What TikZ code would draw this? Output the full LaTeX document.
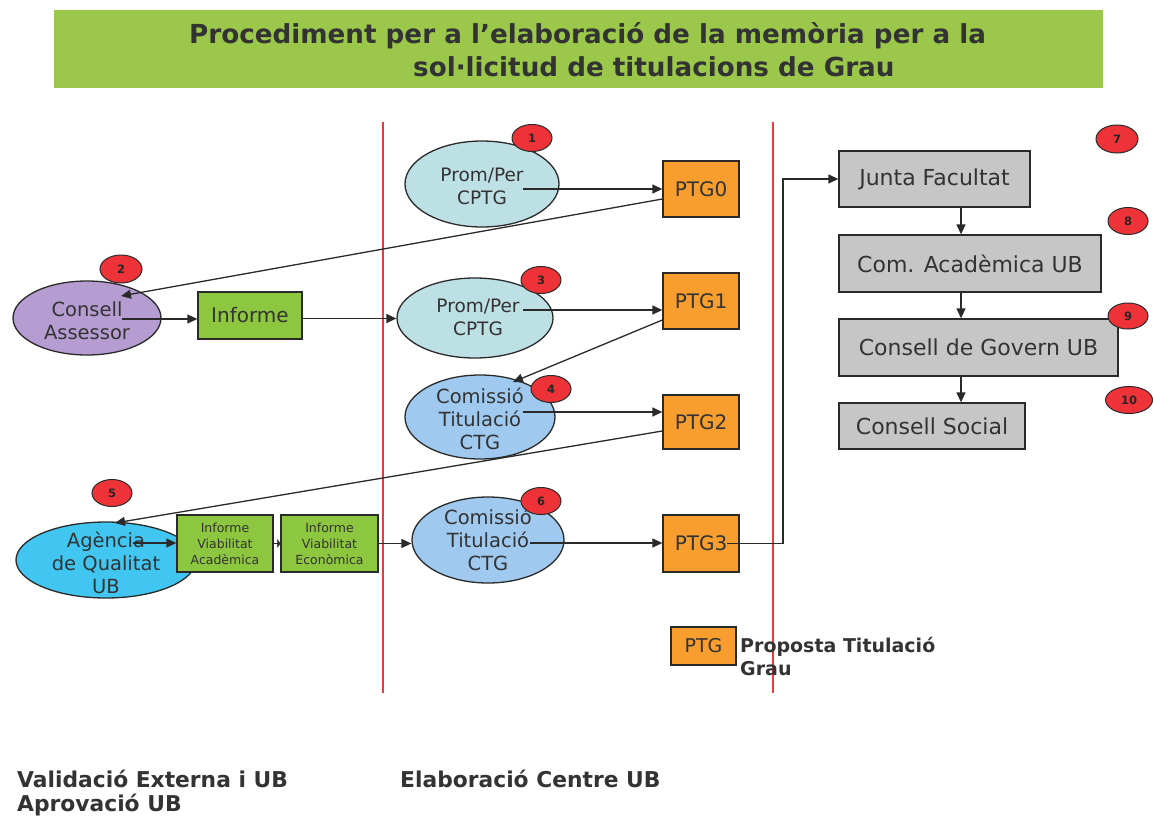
\documentclass[tikz,border=0pt]{standalone}
\usepackage{fontspec}
\setmainfont{DejaVu Sans}
\usetikzlibrary{shapes.geometric,arrows.meta,calc}
\definecolor{titlegreen}{HTML}{9BC84A}
\definecolor{boxgreen}{HTML}{8DC63F}
\definecolor{ptgorange}{HTML}{F79E2F}
\definecolor{boxgray}{HTML}{C6C6C6}
\definecolor{promcyan}{HTML}{BCE0E4}
\definecolor{comblue}{HTML}{9FC9EE}
\definecolor{agblue}{HTML}{41C6F2}
\definecolor{lavender}{HTML}{B59DD2}
\definecolor{badgered}{HTML}{EE3338}
\definecolor{redline}{HTML}{EA3A40}
\definecolor{ink}{HTML}{333333}
\definecolor{edge}{HTML}{2A2A2A}
\begin{document}
\begin{tikzpicture}[x=1pt,y=-1pt,
  ell/.style={ellipse, draw=edge, line width=1.3pt, inner sep=0pt},
  etext/.style={text=ink, align=center, font=\fontsize{19.5}{23}\selectfont, inner sep=0pt},
  rbox/.style={rectangle, draw=edge, line width=1.3pt, text=ink, inner sep=0pt, font=\fontsize{20}{23}\selectfont, align=center},
  smallbox/.style={rbox, fill=boxgreen, font=\fontsize{12.5}{16}\selectfont},
  ptgbox/.style={rbox, fill=ptgorange, minimum width=76pt},
  graybox/.style={rbox, fill=boxgray, font=\fontsize{22}{25}\selectfont},
  badge/.style={ellipse, draw=edge, line width=1pt, fill=badgered, inner sep=0pt, minimum width=40pt, minimum height=27pt, font=\bfseries\fontsize{11.5}{12}\selectfont, text=black!85},
  arr/.style={draw=edge, line width=1.3pt, -{Triangle[length=10pt,width=9pt]}},
  ln/.style={draw=edge, line width=1.3pt},
  divider/.style={draw=redline, line width=1.2pt},
  boldlabel/.style={anchor=base west, inner sep=0pt, text=ink, font=\bfseries\fontsize{21.8}{25}\selectfont},
]
\useasboundingbox (0,0) rectangle (1153,816);
\fill[white] (0,0) rectangle (1153,816);

% title
\node[fill=titlegreen, minimum width=1049pt, minimum height=78pt, anchor=north west, inner sep=0pt] (band) at (54,10) {};
\node[anchor=base west, inner sep=0pt, text=ink, font=\bfseries\fontsize{26.2}{30}\selectfont] (t1) at (189,44) {Procediment per a l’elaboració de la memòria per a la};
\node[anchor=base west, inner sep=0pt, text=ink, font=\bfseries\fontsize{26.2}{30}\selectfont] (t2) at (413,76) {sol·licitud de titulacions de Grau};

% dividers
\draw[divider] (383,122) -- (383,693);
\draw[divider] (773,122) -- (773,693);

% left column
\node[ell, fill=lavender, minimum width=148pt, minimum height=74pt] (ca) at (87,318) {};
\node[etext] (cat) at (87,321) {Consell\\Assessor};
\node[rbox, fill=boxgreen, minimum width=104pt, minimum height=47pt] (inf) at (250,315.5) {Informe};
\node[ell, fill=agblue, minimum width=180pt, minimum height=76pt] (ag) at (106,560) {};
\node[etext] (agt) at (106,563) {Agència\\de Qualitat\\UB};
\node[smallbox, minimum width=96pt, minimum height=57pt] (iva) at (225,543.5) {Informe\\Viabilitat\\Acadèmica};
\node[smallbox, minimum width=97pt, minimum height=57pt] (ive) at (329.5,543.5) {Informe\\Viabilitat\\Econòmica};

% middle column
\node[ell, fill=promcyan, minimum width=154pt, minimum height=86pt] (p1) at (482,184) {};
\node[etext, font=\fontsize{18.5}{23}\selectfont] (p1t) at (482,186) {Prom/Per\\CPTG};
\node[ell, fill=promcyan, minimum width=156pt, minimum height=80pt] (p3) at (475,318) {};
\node[etext, font=\fontsize{18.5}{23}\selectfont] (p3t) at (478,317) {Prom/Per\\CPTG};
\node[ell, fill=comblue, minimum width=150pt, minimum height=84pt] (c4) at (480,417) {};
\node[etext] (c4t) at (480,419) {Comissió\\Titulació\\CTG};
\node[ell, fill=comblue, minimum width=152pt, minimum height=86pt] (c6) at (488,540) {};
\node[etext] (c6t) at (488,540) {Comissió\\Titulació\\CTG};

\node[ptgbox, minimum height=56pt] (ptg0) at (701,189) {PTG0};
\node[ptgbox, minimum height=56pt] (ptg1) at (701,301) {PTG1};
\node[ptgbox, minimum height=54pt] (ptg2) at (701,422) {PTG2};
\node[ptgbox, minimum height=57pt] (ptg3) at (701,543.5) {PTG3};

% right column
\node[graybox, minimum width=191pt, minimum height=56pt] (jf) at (934.5,179) {Junta Facultat};
\node[graybox, minimum width=262pt, minimum height=57pt] (cac) at (970,263.5) {Com. Acadèmica UB};
\node[graybox, minimum width=279pt, minimum height=57pt] (cg) at (978.5,347.5) {Consell de Govern UB};
\node[graybox, minimum width=186pt, minimum height=46pt] (cs) at (932,426) {Consell Social};

% badges
\node[badge] (b1) at (532,138) {1};
\node[badge, minimum width=42pt, minimum height=28pt] (b2) at (121,269) {2};
\node[badge] (b3) at (541,280) {3};
\node[badge] (b4) at (551,389) {4};
\node[badge] (b5) at (112,493) {5};
\node[badge] (b6) at (541,501) {6};
\node[badge, minimum width=42pt, minimum height=28pt] (b7) at (1117,139) {7};
\node[badge] (b8) at (1128,221) {8};
\node[badge, minimum height=26pt] (b9) at (1128,316) {9};
\node[badge, minimum width=47pt] (b10) at (1129,400) {10};

% connectors
\coordinate (p1o) at ($(p1.center)+(41,5)$);
\draw[arr] (p1o) -- (p1o -| ptg0.west);
\coordinate (caend) at (121,296);
\draw[arr] ($(ptg0.west)+(0,10)$) -- (caend);
\coordinate (cao) at ($(ca.center)+(35,1)$);
\draw[arr] (cao) -- (cao -| inf.west);
\coordinate (info) at ($(inf.east)+(0,3)$);
\draw[arr] (info) -- (info -| p3.west);
\coordinate (p3o) at ($(p3.center)+(48,-8)$);
\draw[arr] (p3o) -- (p3o -| ptg1.west);
\coordinate (c4end) at (513,382);
\draw[arr] ($(ptg1.west)+(0,19)$) -- (c4end);
\coordinate (c4o) at ($(c4.center)+(43,-5)$);
\draw[arr] (c4o) -- (c4o -| ptg2.west);
\coordinate (agend) at (115,523);
\draw[arr] ($(ptg2.west)+(0,9)$) -- (agend);
\coordinate (ago) at ($(ag.center)+(27,-17)$);
\draw[arr] (ago) -- (ago -| iva.west);
\draw[ln, -{Triangle[length=3pt,width=9pt]}] (iva.east) -- (ive.west);
\draw[arr] (ive.east) -- (ive.east -| c6.west);
\coordinate (c6o) at ($(c6.center)+(42,3)$);
\draw[arr] (c6o) -- (c6o -| ptg3.west);
\coordinate (p3x) at ($(ptg3.center)+(26,0)$);
\coordinate (bend) at (783,0);
\draw[arr] (p3x) -- (p3x -| bend) |- (jf.west);
\coordinate (ax) at (961,0);
\draw[arr] (jf.south -| ax) -- (cac.north -| ax);
\draw[arr] (cac.south -| ax) -- (cg.north -| ax);
\draw[arr] (cg.south -| ax) -- (cs.north -| ax);

% legend
\node[rbox, fill=ptgorange, minimum width=65pt, minimum height=38pt, font=\fontsize{19}{23}\selectfont] (lg) at (703.5,646) {PTG};
\node[anchor=base west, inner sep=0pt, text=ink, font=\bfseries\fontsize{19}{23}\selectfont] (lg1) at (740,652) {Proposta Titulació};
\node[anchor=base west, inner sep=0pt, text=ink, font=\bfseries\fontsize{19}{23}\selectfont] (lg2) at (740,675) {Grau};

% bottom labels
\node[boldlabel] (bl1) at (17,787) {Validació Externa i UB};
\node[boldlabel] (bl2) at (17,811) {Aprovació UB};
\node[boldlabel] (bl3) at (400,787) {Elaboració Centre UB};
\end{tikzpicture}
\end{document}
